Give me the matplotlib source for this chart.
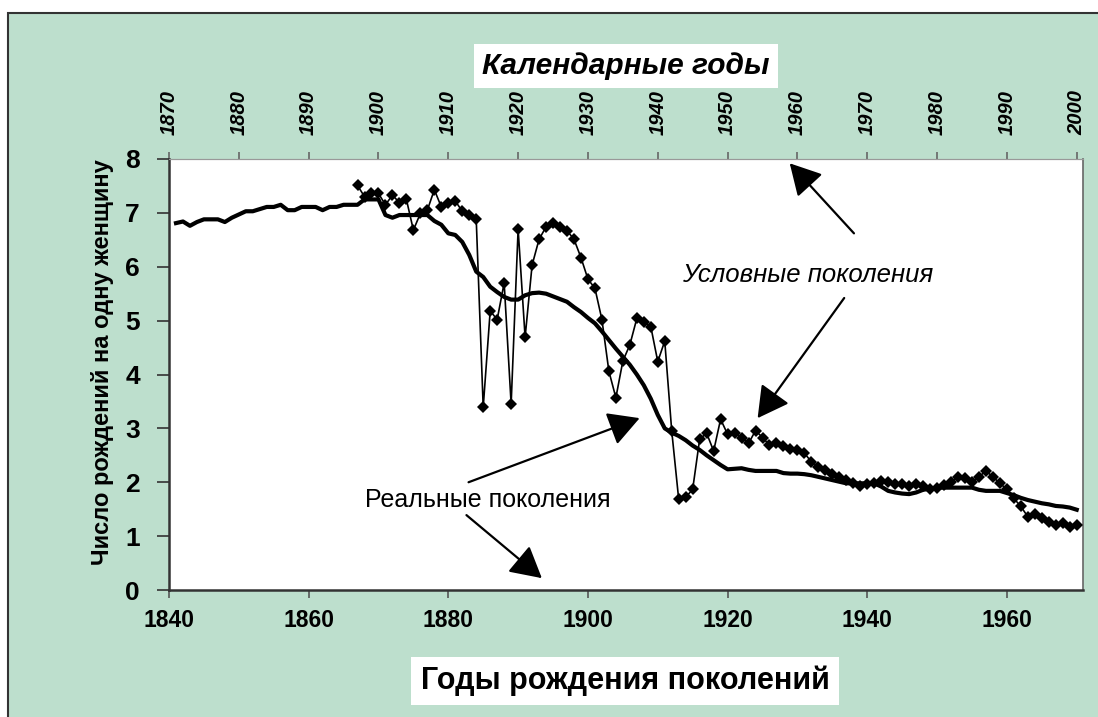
import numpy as np
import matplotlib
matplotlib.use('Agg')
import matplotlib.pyplot as plt
from matplotlib.patches import Rectangle

plt.rcParams['font.family'] = ['Liberation Sans', 'DejaVu Sans']

# real (cohort) generations, birth years 1841-1970
real_start = 1841
real_tfr = [6.81, 6.84, 6.76, 6.83, 6.88, 6.88, 6.88, 6.83, 6.91,              # 1841-1849
            6.97, 7.03, 7.03, 7.07, 7.11, 7.11, 7.15, 7.05, 7.05, 7.11,        # 1850-1859
            7.11, 7.11, 7.05, 7.11, 7.11, 7.15, 7.15, 7.15, 7.25, 7.25,        # 1860-1869
            7.25, 6.96, 6.91, 6.96, 6.96, 6.96, 6.96, 6.96, 6.85, 6.78,        # 1870-1879
            6.62, 6.59, 6.46, 6.22, 5.91, 5.81, 5.63, 5.53, 5.44, 5.39,        # 1880-1889
            5.39, 5.47, 5.51, 5.52, 5.50, 5.45, 5.40, 5.35, 5.25, 5.16,        # 1890-1899
            5.05, 4.95, 4.80, 4.64, 4.48, 4.33, 4.18, 4.00, 3.80, 3.55,        # 1900-1909
            3.25, 3.00, 2.92, 2.86, 2.78, 2.68, 2.60, 2.50, 2.41, 2.32,        # 1910-1919
            2.24, 2.25, 2.26, 2.23, 2.21, 2.21, 2.21, 2.21, 2.17, 2.16,        # 1920-1929
            2.16, 2.15, 2.13, 2.10, 2.07, 2.04, 2.01, 1.98, 1.98, 1.98,        # 1930-1939
            1.98, 1.98, 1.92, 1.84, 1.81, 1.79, 1.78, 1.81, 1.86, 1.88,        # 1940-1949
            1.90, 1.90, 1.90, 1.90, 1.90, 1.90, 1.86, 1.84, 1.84, 1.84,        # 1950-1959
            1.80, 1.76, 1.71, 1.67, 1.64, 1.61, 1.59, 1.56, 1.55, 1.53,        # 1960-1969
            1.49]                                                              # 1970

# conditional (period) generations, plotted at birth year = calendar year - 30
cond_start = 1867
cond_tfr = [7.51, 7.30, 7.37,                                                  # 1867-1869
            7.36, 7.15, 7.33, 7.19, 7.25, 6.68, 6.99, 7.05, 7.43, 7.11,        # 1870-1879
            7.19, 7.22, 7.03, 6.96, 6.88, 3.39, 5.18, 5.02, 5.70, 3.45,        # 1880-1889
            6.70, 4.69, 6.03, 6.51, 6.74, 6.82, 6.74, 6.67, 6.51, 6.17,        # 1890-1899
            5.77, 5.60, 5.02, 4.06, 3.57, 4.25, 4.55, 5.04, 4.98, 4.89,        # 1900-1909
            4.24, 4.62, 2.95, 1.68, 1.72, 1.87, 2.80, 2.91, 2.58, 3.17,        # 1910-1919
            2.89, 2.92, 2.83, 2.72, 2.96, 2.83, 2.69, 2.73, 2.67, 2.61,        # 1920-1929
            2.59, 2.54, 2.38, 2.29, 2.23, 2.15, 2.10, 2.05, 1.98, 1.93,        # 1930-1939
            1.97, 1.99, 2.03, 2.01, 1.97, 1.97, 1.93, 1.97, 1.93, 1.87,        # 1940-1949
            1.89, 1.95, 2.01, 2.09, 2.07, 2.01, 2.10, 2.21, 2.10, 1.98,        # 1950-1959
            1.87, 1.70, 1.55, 1.36, 1.41, 1.33, 1.27, 1.21, 1.25, 1.17,        # 1960-1969
            1.21]                                                              # 1970

bottom_ticks = [1840, 1860, 1880, 1900, 1920, 1940, 1960]
top_ticks = list(range(1870, 2001, 10))
y_ticks = list(range(0, 9))
shift = 30

real_years = np.arange(real_start, real_start + len(real_tfr))
cond_years = np.arange(cond_start, cond_start + len(cond_tfr))

green = '#BDDFCD'
W, H = 1098, 717

fig = plt.figure(figsize=(W/100, H/100), dpi=100)
fig.patch.set_facecolor('white')
fig.add_artist(Rectangle((8/W, -0.02), 1.05, (H-13)/H + 0.02, transform=fig.transFigure,
                         facecolor=green, edgecolor='#333333', lw=1.5, zorder=0))

ax = fig.add_axes([169/W, 1-590/H, (1083-169)/W, (590-159)/H])
ax.set_facecolor('white')

ax.plot(real_years, real_tfr, color='black', lw=3.0, solid_joinstyle='round', zorder=3)
ax.plot(cond_years, cond_tfr, color='black', lw=1.2, marker='D', markersize=6.5,
        markeredgewidth=0, zorder=4)

ax.set_xlim(1840, 1970.9)
ax.set_ylim(0, 8)
ax.set_xticks(bottom_ticks)
ax.set_yticks(y_ticks)
ax.tick_params(axis='x', direction='out', length=6, width=1.2, color='#555555', pad=8,
               labelsize=16.5)
ax.tick_params(axis='y', direction='out', length=9, width=1.2, color='#333333', pad=12,
               labelsize=19)
for lab in ax.get_xticklabels() + ax.get_yticklabels():
    lab.set_fontweight('bold')
ax.spines['left'].set_color('#333333')
ax.spines['left'].set_linewidth(1.8)
ax.spines['bottom'].set_color('#333333')
ax.spines['bottom'].set_linewidth(1.8)
ax.spines['top'].set_color('#999999')
ax.spines['right'].set_color('#666666')
ax.spines['right'].set_linewidth(1.2)

ax2 = ax.secondary_xaxis('top', functions=(lambda x: x + shift, lambda x: x - shift))
ax2.set_xticks(top_ticks)
ax2.tick_params(direction='out', length=5, width=1.2, color='#666666', pad=12, labelsize=14.5)
for lab in ax2.get_xticklabels():
    lab.set_rotation(90)
    lab.set_fontweight('bold')
    lab.set_fontstyle('italic')
ax2.spines['top'].set_color('#999999')

fig.text(103/W, 1-362/H, 'Число рождений на одну женщину', rotation=90, ha='center',
         va='center', fontsize=17, fontweight='bold')

fig.text(626/W, 1-66/H, 'Календарные годы', ha='center', va='center', fontsize=21.5,
         fontweight='bold', fontstyle='italic',
         bbox=dict(facecolor='white', edgecolor='none', boxstyle='square,pad=0.28'))
fig.text(625/W, 1-681/H, 'Годы рождения поколений', ha='center', va='center', fontsize=22,
         fontweight='bold',
         bbox=dict(facecolor='white', edgecolor='none', boxstyle='square,pad=0.3'))

arrow = dict(arrowstyle='-|>,head_length=0.6,head_width=0.33', mutation_scale=32,
             color='black', lw=1.6, shrinkA=0, shrinkB=0)
ax.text(1931.4, 5.84, 'Условные поколения', ha='center', va='center', fontsize=18.5,
        fontstyle='italic')
ax.annotate('', xy=(1928.9, 7.92), xytext=(1938.1, 6.62), arrowprops=arrow,
            annotation_clip=False)
ax.annotate('', xy=(1924.3, 3.19), xytext=(1936.7, 5.42), arrowprops=arrow)
ax.text(1885.6, 1.67, 'Реальные поколения', ha='center', va='center', fontsize=18)
ax.annotate('', xy=(1907.4, 3.19), xytext=(1882.9, 2.0), arrowprops=arrow)
ax.annotate('', xy=(1893.4, 0.22), xytext=(1882.6, 1.39), arrowprops=arrow)

fig.savefig('out.png', dpi=100)
